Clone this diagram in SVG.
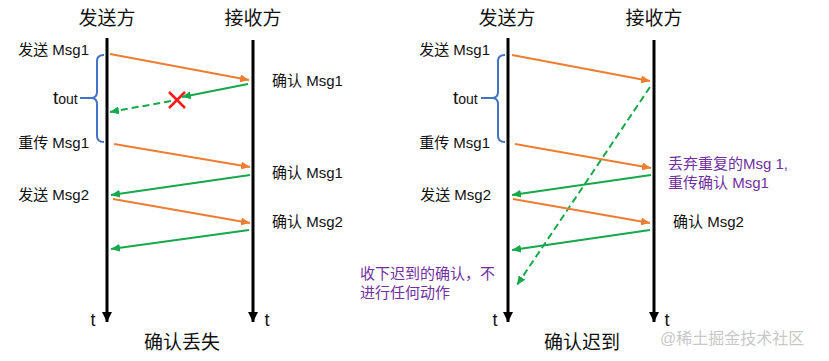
<svg xmlns="http://www.w3.org/2000/svg" width="829" height="361" viewBox="0 0 829 361">
<style>
text{font-family:"Liberation Sans","Noto Sans CJK SC",sans-serif;fill:#111}
.title{font-size:19px}
.lbl{font-size:15px}
.tt{font-size:18px}
.pur{font-size:15px;fill:#7030A0}
.wm{font-size:16px;fill:#c8c8c8}
.axis{stroke:#000;stroke-width:3;fill:none}
.or{stroke:#ED7D31;stroke-width:2;fill:none;marker-end:url(#ao)}
.gr{stroke:#16A84A;stroke-width:2;fill:none;marker-end:url(#ag)}
.grd{stroke:#16A84A;stroke-width:2;fill:none;stroke-dasharray:7 4;marker-end:url(#ag)}
.br{stroke:#4472C4;stroke-width:2;fill:none}
</style>
<defs>
<marker id="ao" markerUnits="userSpaceOnUse" markerWidth="10" markerHeight="8" refX="9" refY="4" orient="auto"><path d="M0,0 L9,4 L0,8 Z" fill="#ED7D31"/></marker>
<marker id="ag" markerUnits="userSpaceOnUse" markerWidth="10" markerHeight="8" refX="9" refY="4" orient="auto"><path d="M0,0 L9,4 L0,8 Z" fill="#16A84A"/></marker>
<marker id="ab" markerUnits="userSpaceOnUse" markerWidth="11" markerHeight="11" refX="10" refY="5" orient="auto"><path d="M0,0 L10,5 L0,10 Z" fill="#000"/></marker>
</defs>

<!-- Left panel: 确认丢失 -->
<g id="left-sender">
<text class="title" x="107" y="25" text-anchor="middle">发送方</text>
<line class="axis" x1="107" y1="38" x2="107" y2="322" marker-end="url(#ab)"/>
<text class="tt" x="93" y="326" text-anchor="middle">t</text>
</g>
<g id="left-receiver">
<text class="title" x="253" y="25" text-anchor="middle">接收方</text>
<line class="axis" x1="253" y1="40" x2="253" y2="322" marker-end="url(#ab)"/>
<text class="tt" x="267" y="326" text-anchor="middle">t</text>
</g>
<g id="left-labels">
<text class="lbl" x="89" y="55" text-anchor="end">发送 Msg1</text>
<text class="lbl" x="89" y="148" text-anchor="end">重传 Msg1</text>
<text class="lbl" x="89" y="200" text-anchor="end">发送 Msg2</text>
<text class="lbl" x="272" y="86">确认 Msg1</text>
<text class="lbl" x="272" y="178">确认 Msg1</text>
<text class="lbl" x="272" y="227">确认 Msg2</text>
<text x="53" y="104" style="font-size:19px">t<tspan style="font-size:14px">out</tspan></text>
<text class="title" x="182" y="349" text-anchor="middle">确认丢失</text>
</g>
<g id="left-bracket">
<path class="br" d="M104,55 Q97,55 97,61 L97,92 Q97,98 91,98 L80,98 M91,98 Q97,98 97,104 L97,136 Q97,142 104,142"/>
</g>
<g id="left-x">
<path d="M169,92 L185,108 M185,92 L169,108" stroke="#FF1A1A" stroke-width="2.5"/>
</g>
<g id="left-connectors">
<line class="or" x1="110" y1="54" x2="249" y2="80"/>
<line class="gr" x1="248" y1="84" x2="182" y2="97"/>
<line class="grd" x1="171" y1="101" x2="110" y2="112"/>
<line class="or" x1="114" y1="144" x2="250" y2="167"/>
<line class="gr" x1="250" y1="175" x2="111" y2="195"/>
<line class="or" x1="113" y1="199" x2="250" y2="223"/>
<line class="gr" x1="249" y1="230" x2="111" y2="249"/>
</g>

<!-- Right panel: 确认迟到 -->
<g id="right-sender">
<text class="title" x="507" y="25" text-anchor="middle">发送方</text>
<line class="axis" x1="508" y1="38" x2="508" y2="322" marker-end="url(#ab)"/>
<text class="tt" x="495" y="326" text-anchor="middle">t</text>
</g>
<g id="right-receiver">
<text class="title" x="654" y="25" text-anchor="middle">接收方</text>
<line class="axis" x1="654" y1="40" x2="654" y2="322" marker-end="url(#ab)"/>
<text class="tt" x="667" y="326" text-anchor="middle">t</text>
</g>
<g id="right-labels">
<text class="lbl" x="490" y="55" text-anchor="end">发送 Msg1</text>
<text class="lbl" x="490" y="148" text-anchor="end">重传 Msg1</text>
<text class="lbl" x="491" y="200" text-anchor="end">发送 Msg2</text>
<text class="lbl" x="673" y="227">确认 Msg2</text>
<text x="453" y="104" style="font-size:19px">t<tspan style="font-size:14px">out</tspan></text>
<text class="pur" x="668" y="169">丢弃重复的Msg 1,</text>
<text class="pur" x="668" y="188">重传确认 Msg1</text>
<text class="pur" x="360" y="279">收下迟到的确认，不</text>
<text class="pur" x="360" y="298">进行任何动作</text>
<text class="title" x="582" y="349" text-anchor="middle">确认迟到</text>
<text class="wm" x="660" y="344">@稀土掘金技术社区</text>
</g>
<g id="right-bracket">
<path class="br" d="M505,55 Q498,55 498,61 L498,92 Q498,98 492,98 L481,98 M492,98 Q498,98 498,104 L498,136 Q498,142 505,142"/>
</g>
<g id="right-connectors">
<line class="or" x1="512" y1="55" x2="650" y2="81"/>
<line class="grd" x1="650" y1="87" x2="517" y2="285"/>
<line class="or" x1="515" y1="144" x2="651" y2="168"/>
<line class="gr" x1="651" y1="175" x2="512" y2="195"/>
<line class="or" x1="513" y1="199" x2="650" y2="223"/>
<line class="gr" x1="650" y1="230" x2="512" y2="250"/>
</g>
</svg>
